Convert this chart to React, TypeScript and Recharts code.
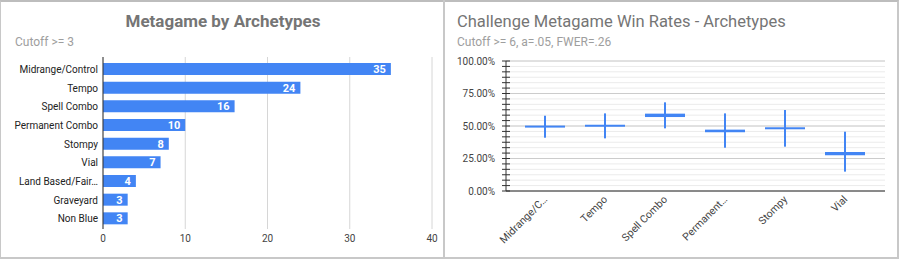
import React from 'react'
import {
  BarChart,
  Bar,
  XAxis,
  YAxis,
  CartesianGrid,
  LabelList,
} from 'recharts'

// left panel: deck counts per archetype
const metaCategories = [
  'Midrange/Control',
  'Tempo',
  'Spell Combo',
  'Permanent Combo',
  'Stompy',
  'Vial',
  'Land Based/Fair Blue',
  'Graveyard',
  'Non Blue',
]
const metaCounts = [35, 24, 16, 10, 8, 7, 4, 3, 3]
const countTicks = [0, 10, 20, 30, 40]

// right panel: win rate confidence intervals (percent)
const wrCategories = ['Midrange/Control', 'Tempo', 'Spell Combo', 'Permanent Combo', 'Stompy', 'Vial']
const wrLow = [41.0, 40.5, 48.2, 33.3, 34.1, 14.9]
const wrHigh = [57.9, 59.7, 68.2, 59.7, 62.3, 45.6]
const wrBoxLow = [48.9, 49.5, 56.9, 45.2, 47.6, 27.5]
const wrBoxHigh = [50.2, 50.9, 59.5, 47.2, 48.9, 30.0]
const pctTicks = [0, 25, 50, 75, 100]
const pctMinorTicks = pctTicks.slice(0, -1).flatMap((t) => [0, 1, 2, 3, 4, 5].map((k) => t + (k * 25) / 6)).concat([100])

const BLUE = '#4285f4'
const FONT = 'Roboto, Arial, sans-serif'

const metaData = metaCategories.map((name, i) => ({ name, value: metaCounts[i] }))
const wrData = wrCategories.map((name, i) => ({
  name,
  low: wrLow[i],
  high: wrHigh[i],
  boxLow: wrBoxLow[i],
  boxHigh: wrBoxHigh[i],
}))

const truncLeft = (s: string) => (s.length > 16 ? s.slice(0, 15).trimEnd() + '…' : s)
const truncRight = (s: string) => (s.length > 11 ? s.slice(0, 10).trimEnd() + '…' : s)

function IntervalShape(props: any) {
  const { x, y, width, height, payload } = props
  const span = payload.high - payload.low
  const toY = (v: number) => y + (height * (payload.high - v)) / span
  const top = toY(payload.boxHigh)
  const bottom = toY(payload.boxLow)
  const h = Math.max(bottom - top, 2)
  const cx = x + width / 2
  return (
    <g>
      <rect x={cx - 1} y={y} width={2} height={height} fill={BLUE} />
      <rect x={x} y={(top + bottom) / 2 - h / 2} width={width} height={h} fill={BLUE} />
    </g>
  )
}

function NameTick(props: any) {
  const { x, y, payload } = props
  return (
    <text x={x} y={y} dy="0.35em" textAnchor="end" fontSize={10} fill="#222" fontFamily={FONT}>
      {truncLeft(payload.value)}
    </text>
  )
}

function PctTick(props: any) {
  const { x, y, payload } = props
  const v = payload.value
  const major = Math.abs(v / 25 - Math.round(v / 25)) < 1e-6
  return (
    <g>
      <line x1={x - 4} x2={x + 4} y1={y} y2={y} stroke="#333" />
      {major && (
        <text x={x - 11} y={y} dy="0.35em" textAnchor="end" fontSize={10} fill="#444" fontFamily={FONT}>
          {v.toFixed(2)}%
        </text>
      )}
    </g>
  )
}

function SlantTick(props: any) {
  const { x, y, payload } = props
  const ax = x + 3
  const ay = y + 9
  return (
    <text
      x={ax}
      y={ay}
      transform={`rotate(-45 ${ax} ${ay})`}
      textAnchor="end"
      fontSize={10.5}
      fill="#444"
      fontFamily={FONT}
    >
      {truncRight(payload.value)}
    </text>
  )
}

export default function App() {
  return (
    <div
      style={{
        position: 'relative',
        width: 900,
        height: 260,
        fontFamily: FONT,
        background: '#fff',
      }}
    >
      <style>{'body{margin:0}'}</style>
      <div
        style={{
          position: 'absolute',
          left: 0,
          top: 0,
          width: 896,
          height: 255,
          borderTop: '2px solid #bdbdbd',
          borderLeft: '1px solid #c8c8c8',
          borderRight: '2px solid #c8c8c8',
          borderBottom: '2px solid #c8c8c8',
        }}
      />
      <div style={{ position: 'absolute', left: 443, top: 0, width: 2, height: 258, background: '#c8c8c8' }} />

      {/* left panel */}
      <div
        style={{
          position: 'absolute',
          left: 0,
          width: 446,
          top: 11,
          textAlign: 'center',
          fontSize: 17,
          fontWeight: 'bold',
          color: '#757575',
        }}
      >
        Metagame by Archetypes
      </div>
      <div style={{ position: 'absolute', left: 15, top: 35, fontSize: 12, color: '#9e9e9e' }}>Cutoff &gt;= 3</div>
      <div style={{ position: 'absolute', left: 0, top: 0 }}>
        <BarChart
          width={443}
          height={257}
          data={metaData}
          layout="vertical"
          margin={{ top: 57, right: 11, bottom: 0, left: 0 }}
          barSize={12}
        >
          <CartesianGrid horizontal={false} stroke="#d6d6d6" />
          <XAxis
            type="number"
            domain={[0, 40]}
            ticks={countTicks}
            axisLine={false}
            tickLine={false}
            tickSize={0}
            tickMargin={6}
            height={28}
            tick={{ fontSize: 10, fill: '#444', fontFamily: FONT }}
          />
          <YAxis
            type="category"
            dataKey="name"
            width={103}
            interval={0}
            padding={{ top: 3, bottom: 1 }}
            axisLine={{ stroke: '#333' }}
            tickLine={false}
            tickSize={0}
            tickMargin={5}
            tick={<NameTick />}
          />
          <Bar dataKey="value" fill={BLUE} isAnimationActive={false}>
            <LabelList
              dataKey="value"
              position="insideRight"
              offset={5}
              fill="#fff"
              fontSize={11}
              fontWeight="bold"
              fontFamily={FONT}
            />
          </Bar>
        </BarChart>
      </div>

      {/* right panel */}
      <div style={{ position: 'absolute', left: 457, top: 12, fontSize: 16.5, color: '#757575' }}>
        Challenge Metagame Win Rates - Archetypes
      </div>
      <div style={{ position: 'absolute', left: 457, top: 35, fontSize: 12, color: '#9e9e9e' }}>
        Cutoff &gt;= 6, a=.05, FWER=.26
      </div>
      <div style={{ position: 'absolute', left: 444, top: 0 }}>
        <BarChart
          width={453}
          height={257}
          data={wrData}
          margin={{ top: 61, right: 12, bottom: 6, left: 0 }}
          barSize={40}
        >
          <CartesianGrid vertical={false} horizontalValues={pctMinorTicks} stroke="#ebebeb" />
          <CartesianGrid vertical={false} horizontalValues={pctTicks} stroke="#cccccc" />
          <XAxis
            dataKey="name"
            interval={0}
            padding={{ left: 9, right: 10 }}
            axisLine={{ stroke: '#333' }}
            tickLine={false}
            tickSize={0}
            tickMargin={0}
            height={60}
            tick={<SlantTick />}
          />
          <YAxis
            type="number"
            domain={[0, 100]}
            ticks={pctMinorTicks}
            interval={0}
            width={62}
            axisLine={{ stroke: '#333' }}
            tickLine={false}
            tickSize={0}
            tickMargin={0}
            tick={<PctTick />}
          />
          <Bar
            dataKey={(d: any) => [d.low, d.high]}
            isAnimationActive={false}
            shape={<IntervalShape />}
          />
        </BarChart>
      </div>
    </div>
  )
}
